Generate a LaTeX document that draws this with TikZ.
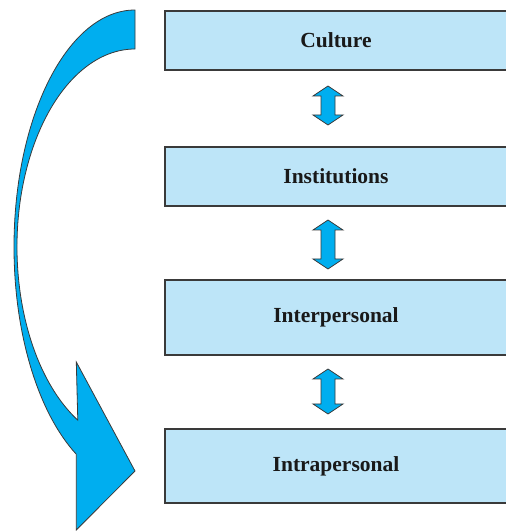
\documentclass[tikz,border=0pt]{standalone}
\usepackage{fontspec}
\setmainfont{Liberation Serif}
\definecolor{boxfill}{HTML}{BDE5F8}
\definecolor{arrfill}{HTML}{00AEEF}
\definecolor{edge}{HTML}{3A3A3A}
\newcommand\dArr[2]{%
  \draw[darr] (328,#1) -- (343,{#1-10}) -- (335,{#1-10}) -- (335,{#2+10}) -- (343,{#2+10})
    -- (328,#2) -- (313,{#2+10}) -- (321,{#2+10}) -- (321,{#1-10}) -- (313,{#1-10}) -- cycle;}
\begin{document}
\begin{tikzpicture}[x=1pt,y=1pt,
  box/.style={draw=edge, line width=1.3pt, fill=boxfill, minimum width=342pt,
    inner sep=0pt, font=\fontsize{21.5}{25}\selectfont\bfseries, text=black!90},
  darr/.style={draw=edge, line width=0.8pt, fill=arrfill, line join=miter},
  bigarr/.style={draw=edge, line width=0.8pt, fill=arrfill, line join=miter}]
\useasboundingbox (0,0) rectangle (506,531);
\node[box, minimum height=59pt] (culture) at (336,490.5) {Culture};
\node[box, minimum height=59pt] (inst) at (336,354.5) {Institutions};
\node[box, minimum height=75pt] (inter) at (336,213.5) {Interpersonal};
\node[box, minimum height=74pt] (intra) at (336,65) {Intrapersonal};
\dArr{445}{406}
\dArr{311}{262}
\dArr{162}{117}
\draw[bigarr] (135,521) arc[start angle=90, end angle=241, x radius=121, y radius=237]
  -- (76.3,1) -- (135,60) -- (76.3,169)
  -- ([shift={(135,284)}]241:118 and 198)
  arc[start angle=241, end angle=90, x radius=118, y radius=198] -- cycle;
\end{tikzpicture}
\end{document}
